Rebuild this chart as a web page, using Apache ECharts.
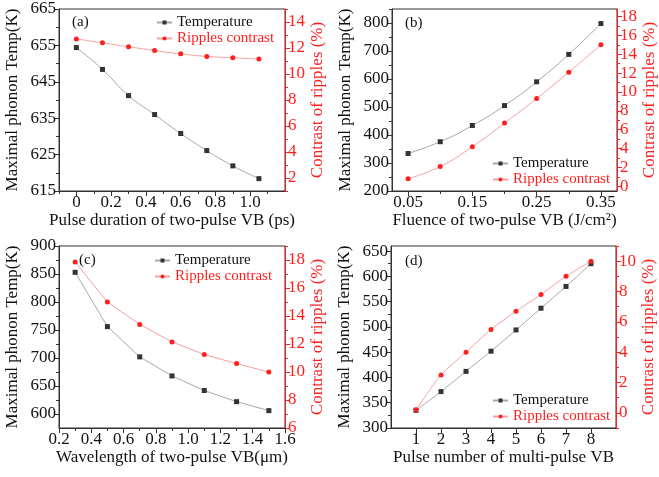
<!DOCTYPE html>
<html>
<head>
<meta charset="utf-8">
<script src="https://cdn.jsdelivr.net/npm/echarts@6/dist/echarts.min.js"></script>
<style>
  html, body { margin: 0; padding: 0; background: #fff; }
  #main { width: 659px; height: 477px; }
</style>
</head>
<body>
<div id="main"></div>
<script>
// (a) pulse duration
const durX = [0, 0.15, 0.3, 0.45, 0.6, 0.75, 0.9, 1.05];
const durTemp = [654.4, 648.4, 641.2, 636.0, 630.8, 626.1, 621.9, 618.4];
const durRipple = [12.7, 12.4, 12.1, 11.8, 11.55, 11.35, 11.25, 11.15];
const durXTicks = [0, 0.2, 0.4, 0.6, 0.8, 1.0];
const durXMinor = [-0.1, 0.1, 0.3, 0.5, 0.7, 0.9, 1.1];
const durTempTicks = [615, 625, 635, 645, 655, 665];
const durTempMinor = [620, 630, 640, 650, 660];
const durRippleTicks = [2, 4, 6, 8, 10, 12, 14];
const durRippleMinor = [1, 3, 5, 7, 9, 11, 13, 15];

// (b) fluence
const fluX = [0.05, 0.1, 0.15, 0.2, 0.25, 0.3, 0.35];
const fluTemp = [334, 376, 434, 505, 590, 688, 798];
const fluRipple = [0.8, 2.1, 4.2, 6.7, 9.3, 12.1, 15.0];
const fluXTicks = [0.05, 0.15, 0.25, 0.35];
const fluXMinor = [0.1, 0.2, 0.3];
const fluTempTicks = [200, 300, 400, 500, 600, 700, 800];
const fluTempMinor = [250, 350, 450, 550, 650, 750, 850];
const fluRippleTicks = [0, 2, 4, 6, 8, 10, 12, 14, 16, 18];
const fluRippleMinor = [1, 3, 5, 7, 9, 11, 13, 15, 17];

// (c) wavelength
const wavX = [0.3, 0.5, 0.7, 0.9, 1.1, 1.3, 1.5];
const wavTemp = [853, 756, 702, 668, 642, 622, 606];
const wavRipple = [17.85, 15.0, 13.4, 12.15, 11.25, 10.6, 10.0];
const wavXTicks = [0.2, 0.4, 0.6, 0.8, 1.0, 1.2, 1.4, 1.6];
const wavXMinor = [0.3, 0.5, 0.7, 0.9, 1.1, 1.3, 1.5];
const wavTempTicks = [600, 650, 700, 750, 800, 850, 900];
const wavTempMinor = [625, 675, 725, 775, 825, 875];
const wavRippleTicks = [6, 8, 10, 12, 14, 16, 18];
const wavRippleMinor = [7, 9, 11, 13, 15, 17, 19];

// (d) pulse number
const numX = [1, 2, 3, 4, 5, 6, 7, 8];
const numTemp = [335, 372, 412, 452, 494, 537, 580, 625];
const numRipple = [0.2, 2.5, 4.0, 5.5, 6.7, 7.8, 9.0, 10.0];
const numXTicks = [1, 2, 3, 4, 5, 6, 7, 8];
const numXMinor = [];
const numTempTicks = [300, 350, 400, 450, 500, 550, 600, 650];
const numTempMinor = [325, 375, 425, 475, 525, 575, 625];
const numRippleTicks = [0, 2, 4, 6, 8, 10];
const numRippleMinor = [-1, 1, 3, 5, 7, 9, 11];

const SERIF = 'Liberation Serif';
const BLACK = '#111';
const RED = '#ff1f1f';
const AXIS = '#333';

const chart = echarts.init(document.getElementById('main'));

function mainAxis(gi, pos, min, max, ticks, color, labelColor, fmt, name, nameGap) {
  return {
    type: 'value', gridIndex: gi, position: pos, min: min, max: max,
    name: name, nameLocation: 'middle', nameGap: nameGap,
    nameTextStyle: { fontFamily: SERIF, fontSize: 17, color: labelColor },
    axisLine: { show: true, onZero: false, lineStyle: { color: color, width: 1 } },
    axisTick: { show: true, length: 5, customValues: ticks, lineStyle: { color: color } },
    axisLabel: { show: true, customValues: ticks, margin: 3, fontFamily: SERIF, fontSize: 17,
      color: labelColor, formatter: fmt },
    splitLine: { show: false }
  };
}

function minorAxis(gi, pos, min, max, ticks, color) {
  return {
    type: 'value', gridIndex: gi, position: pos, min: min, max: max,
    axisLine: { show: false, onZero: false },
    axisTick: { show: ticks.length > 0, length: 3, customValues: ticks, lineStyle: { color: color } },
    axisLabel: { show: false },
    splitLine: { show: false }
  };
}

const intFmt = v => String(Math.round(v));

const panels = [
  { grid: { left: 59, top: 9, width: 226, height: 182 }, tag: '(a)', tagPos: [72, 15],
    legend: { left: 156, top: 15 },
    x: durX, temp: durTemp, ripple: durRipple, smooth: true,
    xr: [-0.1, 1.2, durXTicks, durXMinor, v => (v === 0 ? '0' : v.toFixed(1))],
    yl: [615, 665, durTempTicks, durTempMinor], yr: [1, 15, durRippleTicks, durRippleMinor],
    xName: 'Pulse duration of two-pulse VB (ps)' },
  { grid: { left: 392, top: 9, width: 225, height: 182 }, tag: '(b)', tagPos: [405, 16],
    legend: { left: 492, top: 156 },
    x: fluX, temp: fluTemp, ripple: fluRipple, smooth: true,
    xr: [0.025, 0.375, fluXTicks, fluXMinor, v => v.toFixed(2)],
    yl: [200, 850, fluTempTicks, fluTempMinor], yr: [-0.5, 18.8, fluRippleTicks, fluRippleMinor],
    xName: 'Fluence of two-pulse VB (J/cm\u00b2)' },
  { grid: { left: 59, top: 246, width: 226, height: 182 }, tag: '(c)', tagPos: [79, 253],
    legend: { left: 154, top: 253 },
    x: wavX, temp: wavTemp, ripple: wavRipple, smooth: false,
    xr: [0.2, 1.6, wavXTicks, wavXMinor, v => v.toFixed(1)],
    yl: [575, 900, wavTempTicks, wavTempMinor], yr: [6, 19, wavRippleTicks, wavRippleMinor],
    xName: 'Wavelength of two-pulse VB(\u03bcm)' },
  { grid: { left: 391, top: 246, width: 225, height: 182 }, tag: '(d)', tagPos: [405, 254],
    legend: { left: 492, top: 393 },
    x: numX, temp: numTemp, ripple: numRipple, smooth: 0.2,
    xr: [0, 9, numXTicks, numXMinor, intFmt],
    yl: [300, 660, numTempTicks, numTempMinor], yr: [-1, 11, numRippleTicks, numRippleMinor],
    xName: 'Pulse number of multi-pulse VB' }
];

const grids = [], xAxes = [], yAxes = [], series = [], legends = [], titles = [];

panels.forEach((p, gi) => {
  grids.push(Object.assign({ show: true, borderColor: AXIS, borderWidth: 1,
    backgroundColor: 'transparent' }, p.grid));
  xAxes.push(mainAxis(gi, 'bottom', p.xr[0], p.xr[1], p.xr[2], AXIS, BLACK, p.xr[4], p.xName, 20));
  xAxes.push(minorAxis(gi, 'bottom', p.xr[0], p.xr[1], p.xr[3], AXIS));
  yAxes.push(mainAxis(gi, 'left', p.yl[0], p.yl[1], p.yl[2], AXIS, BLACK, intFmt,
    'Maximal phonon Temp(K)', 38));
  yAxes.push(minorAxis(gi, 'left', p.yl[0], p.yl[1], p.yl[3], AXIS));
  yAxes.push(mainAxis(gi, 'right', p.yr[0], p.yr[1], p.yr[2], RED, RED, intFmt,
    'Contrast of ripples (%)', 24));
  yAxes.push(minorAxis(gi, 'right', p.yr[0], p.yr[1], p.yr[3], RED));

  series.push({
    type: 'line', name: 'Temperature', xAxisIndex: 2 * gi, yAxisIndex: 4 * gi,
    data: p.x.map((v, i) => [v, p.temp[i]]), smooth: p.smooth,
    symbol: 'rect', symbolSize: 5, itemStyle: { color: '#333' },
    lineStyle: { color: '#a8a8a8', width: 1 }, z: 3
  });
  series.push({
    type: 'line', name: 'Ripples contrast', xAxisIndex: 2 * gi, yAxisIndex: 4 * gi + 2,
    data: p.x.map((v, i) => [v, p.ripple[i]]), smooth: p.smooth,
    symbol: 'circle', symbolSize: 5, itemStyle: { color: RED },
    lineStyle: { color: '#f7a0a0', width: 1 }, z: 4
  });

  legends.push({
    orient: 'vertical', left: p.legend.left, top: p.legend.top, padding: 0, itemGap: 1,
    itemWidth: 15, itemHeight: 5,
    textStyle: { fontFamily: SERIF, fontSize: 15 },
    data: [
      { name: 'Temperature', textStyle: { color: BLACK } },
      { name: 'Ripples contrast', textStyle: { color: RED } }
    ]
  });

  titles.push({
    text: p.tag, left: p.tagPos[0], top: p.tagPos[1], padding: 0,
    textStyle: { fontFamily: SERIF, fontSize: 15, fontWeight: 'normal', color: BLACK }
  });
});

chart.setOption({
  animation: false,
  backgroundColor: '#fff',
  title: titles,
  grid: grids,
  xAxis: xAxes,
  yAxis: yAxes,
  legend: legends,
  series: series
});
</script>
</body>
</html>
